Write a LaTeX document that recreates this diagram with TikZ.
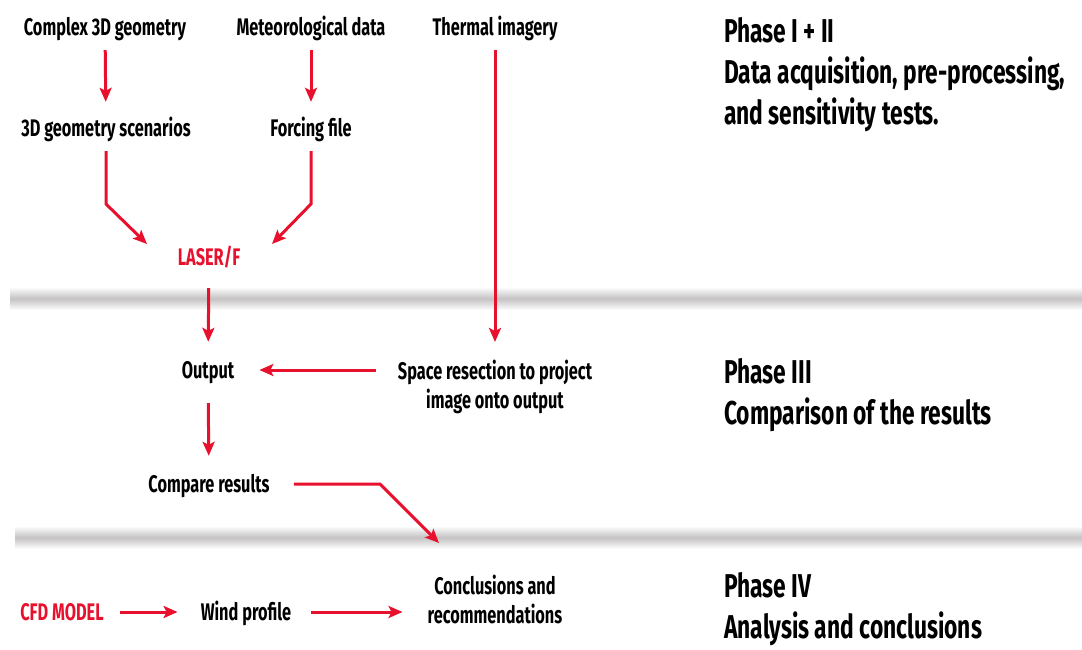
\documentclass[tikz,border=0pt]{standalone}
\usepackage{fontspec}
\setmainfont{Fira Sans}[FakeStretch=0.68]
\newfontfamily\phasefont{Fira Sans}[FakeStretch=0.69]
\usepackage{tikz}
\usetikzlibrary{arrows.meta,positioning,calc}

\definecolor{flowred}{RGB}{232,17,45}
\definecolor{bandgray}{RGB}{196,194,194}

\begin{document}
\begin{tikzpicture}[
  x=1pt, y=-1pt,
  >={Stealth[length=14pt,width=12pt,inset=3pt]},
  lbl/.style={font=\fontsize{24}{28}\selectfont\bfseries, inner sep=0pt, text height=20pt, text depth=4pt},
  redlbl/.style={lbl, text=flowred},
  twoline/.style={lbl, align=center, text height=, text depth=, anchor=north, font=\fontsize{24}{28.5}\selectfont\bfseries},
  phase/.style={font=\phasefont\fontsize{33}{41}\selectfont\bfseries, inner sep=0pt, align=left, anchor=north west},
  arr/.style={->, draw=flowred, line width=3pt, shorten <=11pt, shorten >=14pt},
  band/.style={top color=white, bottom color=white, middle color=bandgray}
]
  \useasboundingbox (0,0) rectangle (1082,649);

  % phase separators
  \shade[band] (10,287) rectangle (1082,310);
  \shade[band] (15,526) rectangle (1082,549);

  % phase I + II
  \node[lbl] (geom)  at (105,27)  {Complex 3D geometry};
  \node[lbl] (met)   at (311,27)  {Meteorological data};
  \node[lbl] (therm) at (495,27)  {Thermal imagery};
  \node[lbl] (scen)  at (106,128) {3D geometry scenarios};
  \node[lbl] (forc)  at (311,128) {Forcing file};
  \node[redlbl] (laser) at (209,257) {LASER/F};

  % phase III
  \node[lbl] (out) at (208,370) {Output};
  \node[twoline] (resec) at (495,360) {Space resection to project\\image onto output};
  \node[lbl] (comp) at (209,484) {Compare results};

  % phase IV
  \node[redlbl] (cfd) at (62,612) {CFD MODEL};
  \node[lbl] (wind) at (246,612) {Wind profile};
  \node[twoline] (concl) at (495,575) {Conclusions and\\recommendations};

  \node[phase] (ph1) at (724,17)  {Phase I + II\\Data acquisition, pre-processing,\\and sensitivity tests.};
  \node[phase] (ph3) at (724,358) {Phase III\\Comparison of the results};
  \node[phase] (ph4) at (724,572) {Phase IV\\Analysis and conclusions};

  \coordinate (bendl) at (106,204);
  \coordinate (bendr) at (311,204);
  \coordinate (tipl)  at (147,244);
  \coordinate (tipr)  at (272,244);
  \coordinate (bendc) at (380,484);
  \coordinate (tipc)  at (439,543);

  \draw[arr] (geom) -- (scen);
  \draw[arr] (met) -- (forc);
  \draw[arr, shorten >=0pt] (scen) -- (bendl) -- (tipl);
  \draw[arr, shorten >=0pt] (forc) -- (bendr) -- (tipr);
  \draw[arr, shorten <=19pt, shorten >=16pt] (laser) -- (out);
  \draw[arr, shorten >=18pt] (therm) -- (therm |- resec.north);
  \draw[arr, shorten <=22pt, shorten >=25pt] (resec.west |- out) -- (out);
  \draw[arr, shorten <=21pt, shorten >=16pt] (out) -- (comp);
  \draw[arr, shorten <=24pt, shorten >=0pt] (comp) -- (bendc) -- (tipc);
  \draw[arr, shorten <=16pt, shorten >=23pt] (cfd) -- (wind);
  \draw[arr, shorten <=20pt, shorten >=25pt] (wind) -- (wind -| concl.west);
\end{tikzpicture}
\end{document}
